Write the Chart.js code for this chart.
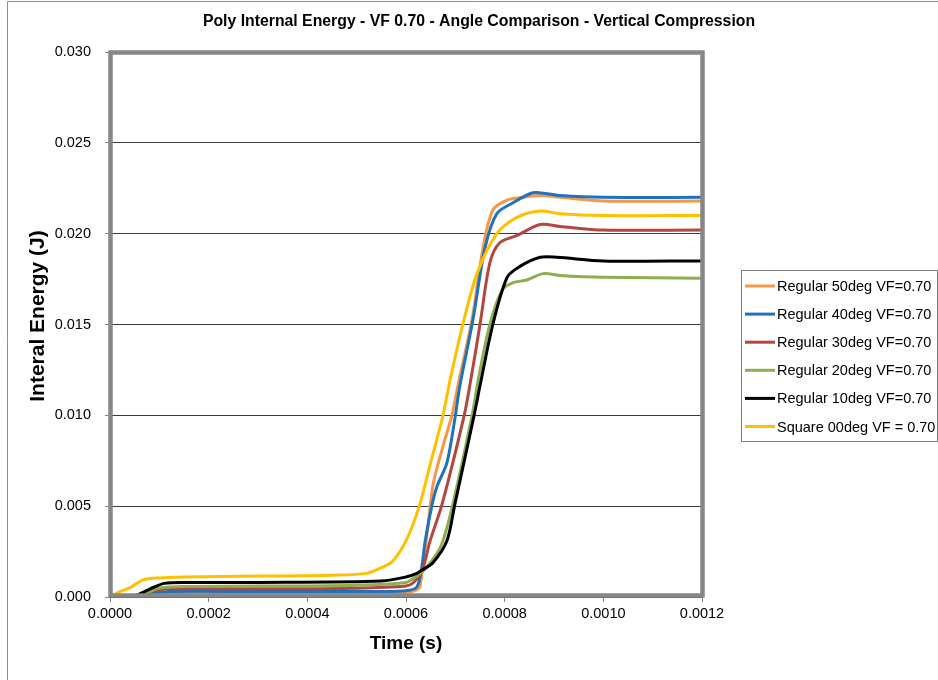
<!DOCTYPE html>
<html>
<head>
<meta charset="utf-8">
<script src="https://cdn.jsdelivr.net/npm/chart.js@4.4.1/dist/chart.umd.min.js"></script>
<style>
  html, body { margin: 0; padding: 0; background: #fff; }
  #wrap { width: 938px; height: 680px; position: relative; }
</style>
</head>
<body>
<div id="wrap"><canvas id="energyChart" width="938" height="680"></canvas></div>
<script>
// time (s) and internal energy (J) per run
const t50 = [0, 0.00004, 0.00008, 0.00012, 0.0003, 0.0005, 0.0006, 0.000622, 0.000628, 0.000635, 0.000641, 0.000655, 0.000675, 0.000693, 0.000705, 0.000734, 0.000756, 0.000776, 0.000805, 0.000837, 0.000872, 0.000912, 0.001, 0.0012];
const e50 = [0, 0, 0.0001, 0.0002, 0.0002, 0.0002, 0.00025, 0.0004, 0.00055, 0.002, 0.0031, 0.0062, 0.0083, 0.0100, 0.0116, 0.0153, 0.0192, 0.0213, 0.02185, 0.0220, 0.0221, 0.0220, 0.0218, 0.0218];

const t40 = [0, 0.00004, 0.00008, 0.00012, 0.0003, 0.0005, 0.0006, 0.000622, 0.000632, 0.000639, 0.000653, 0.000663, 0.000683, 0.000699, 0.000709, 0.000736, 0.00076, 0.000784, 0.000817, 0.000857, 0.000886, 0.000912, 0.001, 0.0012];
const e40 = [0, 0, 0.0002, 0.0003, 0.0003, 0.0003, 0.00035, 0.00055, 0.00165, 0.0031, 0.0051, 0.0061, 0.0074, 0.0098, 0.0116, 0.0153, 0.0192, 0.0211, 0.0217, 0.02225, 0.0222, 0.0221, 0.0220, 0.0220];

const t30 = [0, 0.00004, 0.00008, 0.00012, 0.0003, 0.0005, 0.0006, 0.000614, 0.000632, 0.000649, 0.000673, 0.000718, 0.000731, 0.00075, 0.00077, 0.00079, 0.000825, 0.000872, 0.000912, 0.001, 0.0012];
const e30 = [0, 0, 0.0003, 0.00045, 0.00045, 0.00048, 0.0006, 0.00077, 0.0014, 0.0031, 0.0051, 0.0100, 0.0119, 0.0150, 0.0184, 0.0195, 0.0199, 0.0205, 0.0204, 0.0202, 0.0202];

const t20 = [0, 0.00004, 0.00008, 0.0001, 0.00015, 0.0003, 0.0005, 0.0006, 0.000614, 0.000634, 0.000663, 0.000675, 0.000695, 0.000734, 0.000746, 0.00077, 0.000795, 0.000817, 0.000845, 0.000878, 0.000912, 0.001, 0.0012];
const e20 = [0, 0, 0.0003, 0.0005, 0.00058, 0.0006, 0.00065, 0.0008, 0.001, 0.0014, 0.0024, 0.0031, 0.0051, 0.0100, 0.0119, 0.0150, 0.0169, 0.0173, 0.01745, 0.0178, 0.0177, 0.0176, 0.01755];

const t10 = [0, 0.000045, 0.00007, 0.00009, 0.00011, 0.00015, 0.0003, 0.00055, 0.0006, 0.000622, 0.000634, 0.000655, 0.000683, 0.000699, 0.000738, 0.000752, 0.000776, 0.000805, 0.000831, 0.000872, 0.000906, 0.001, 0.0012];
const e10 = [0, 0, 0.0003, 0.00055, 0.00075, 0.0008, 0.0008, 0.00088, 0.0011, 0.0013, 0.0015, 0.0019, 0.0031, 0.0051, 0.0100, 0.0119, 0.0150, 0.0176, 0.0182, 0.0187, 0.0187, 0.0185, 0.0185];

const t00 = [0, 0.00002, 0.00004, 0.000067, 0.0001, 0.00015, 0.0003, 0.00045, 0.00052, 0.000553, 0.000574, 0.000602, 0.000628, 0.00065, 0.000675, 0.000689, 0.000716, 0.000744, 0.000784, 0.000825, 0.000872, 0.000912, 0.001, 0.0012];
const e00 = [0, 0.0003, 0.0005, 0.00094, 0.00105, 0.0011, 0.00115, 0.0012, 0.0013, 0.00165, 0.002, 0.0032, 0.0051, 0.0074, 0.0100, 0.0119, 0.0151, 0.0178, 0.0200, 0.0209, 0.02125, 0.0211, 0.0210, 0.0210];

const seriesLabels = ['Regular 50deg VF=0.70', 'Regular 40deg VF=0.70', 'Regular 30deg VF=0.70', 'Regular 20deg VF=0.70', 'Regular 10deg VF=0.70', 'Square 00deg VF = 0.70'];
const seriesTimes = [t50, t40, t30, t20, t10, t00];
const seriesEnergy = [e50, e40, e30, e20, e10, e00];
const seriesColors = ['#F79646', '#1F72BC', '#B4463F', '#8DAE4C', '#000000', '#FFC000'];

const chartTitle = 'Poly Internal Energy - VF 0.70 - Angle Comparison - Vertical Compression';
const yTitle = 'Interal Energy (J)';

const datasets = seriesLabels.map((label, i) => ({
  label: label,
  data: seriesTimes[i].map((t, j) => ({ x: t, y: seriesEnergy[i][j] })),
  borderColor: seriesColors[i],
  backgroundColor: seriesColors[i],
  borderWidth: 3,
  pointRadius: 0,
  fill: false,
  tension: 0.3,
  order: seriesLabels.length - i   // later series on top
}));

// page border, titles, plot frame and legend box
const decorations = {
  id: 'decorations',
  beforeDraw(chart) {
    const ctx = chart.ctx;
    ctx.save();
    ctx.fillStyle = '#fff';
    ctx.fillRect(0, 0, chart.width, chart.height);
    ctx.strokeStyle = '#8c8c8c';
    ctx.lineWidth = 1;
    ctx.beginPath();
    ctx.moveTo(7.5, chart.height);
    ctx.lineTo(7.5, 1.5);
    ctx.lineTo(chart.width, 1.5);
    ctx.stroke();

    ctx.fillStyle = '#000';
    ctx.font = 'bold 15.8px "Liberation Sans", Arial, sans-serif';
    ctx.textAlign = 'center';
    ctx.textBaseline = 'middle';
    ctx.fillText(chartTitle, 479, 22);

    ctx.translate(38, 316);
    ctx.rotate(-Math.PI / 2);
    ctx.font = 'bold 21px "Liberation Sans", Arial, sans-serif';
    ctx.fillText(yTitle, 0, 0);
    ctx.restore();
  },
  afterDatasetsDraw(chart) {
    const { ctx, chartArea: a } = chart;
    ctx.save();
    ctx.strokeStyle = '#878787';
    ctx.lineWidth = 4.5;
    ctx.strokeRect(a.left + 0.5, a.top + 0.5, a.right - a.left, a.bottom - a.top - 2);
    ctx.restore();
  },
  afterDraw(chart) {
    const ctx = chart.ctx;
    const boxX = 741, boxY = 270, boxW = 196, boxH = 171;
    ctx.save();
    ctx.strokeStyle = '#7f7f7f';
    ctx.lineWidth = 1;
    ctx.strokeRect(boxX + 0.5, boxY + 0.5, boxW, boxH);
    ctx.font = '14.5px "Liberation Sans", Arial, sans-serif';
    ctx.textAlign = 'left';
    ctx.textBaseline = 'middle';
    chart.data.datasets.forEach((ds, i) => {
      const y = boxY + 16 + i * 28.1;
      ctx.strokeStyle = ds.borderColor;
      ctx.lineWidth = 3;
      ctx.beginPath();
      ctx.moveTo(boxX + 4, y);
      ctx.lineTo(boxX + 34, y);
      ctx.stroke();
      ctx.fillStyle = '#000';
      ctx.fillText(ds.label, boxX + 36, y + 1);
    });
    ctx.restore();
  }
};

new Chart(document.getElementById('energyChart'), {
  type: 'line',
  data: { datasets },
  plugins: [decorations],
  options: {
    responsive: false,
    animation: false,
    layout: { padding: { top: 52, right: 236, bottom: 0, left: 0 } },
    plugins: {
      legend: { display: false },
      title: { display: false },
      tooltip: { enabled: false }
    },
    scales: {
      x: {
        type: 'linear',
        min: 0,
        max: 0.0012,
        afterFit: (scale) => { scale.height = 83; },
        ticks: {
          stepSize: 0.0002,
          color: '#000',
          padding: 3,
          maxRotation: 0,
          font: { family: '"Liberation Sans", Arial, sans-serif', size: 14.5 },
          callback: (v) => v.toFixed(4)
        },
        grid: { drawOnChartArea: false, tickLength: 5, color: '#878787' },
        border: { display: false },
        title: {
          display: true,
          text: 'Time (s)',
          color: '#000',
          font: { family: '"Liberation Sans", Arial, sans-serif', size: 19, weight: 'bold' },
          padding: { top: 0, bottom: 25 }
        }
      },
      y: {
        min: 0,
        max: 0.03,
        afterFit: (scale) => { scale.width = 110; },
        ticks: {
          stepSize: 0.005,
          color: '#000',
          padding: 14,
          font: { family: '"Liberation Sans", Arial, sans-serif', size: 14.5 },
          callback: (v) => v.toFixed(3)
        },
        grid: { color: '#3a3a3a', lineWidth: 1, tickLength: 5, tickColor: '#878787' },
        border: { display: false }
      }
    }
  }
});
</script>
</body>
</html>
